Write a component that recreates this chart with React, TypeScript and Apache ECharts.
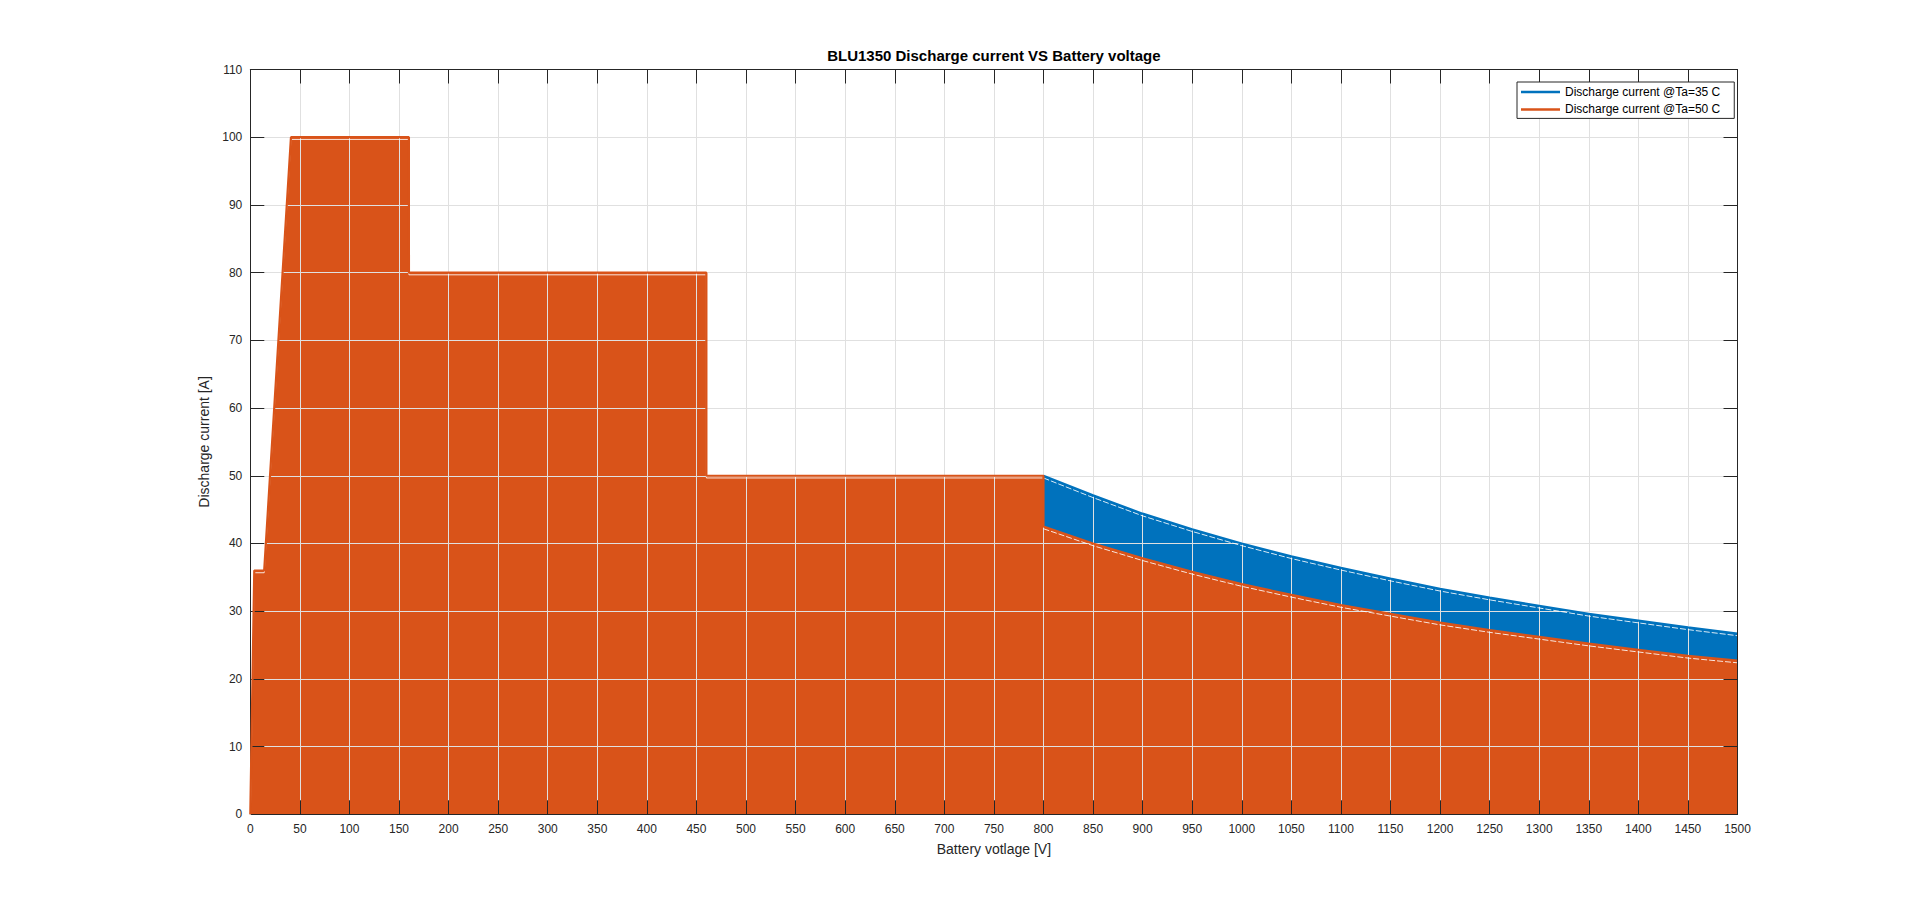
import React, { useEffect, useRef } from "react";
import * as echarts from "echarts";

// Low-voltage profile shared by both curves (V, A)
const lowVoltage = [0, 4, 14, 41, 160, 160, 460, 460, 800];
const lowCurrent = [0, 36, 36, 100, 100, 80, 80, 50, 50];

// Constant-power part (V, A)
const highVoltage = [850, 900, 950, 1000, 1050, 1100, 1150, 1200, 1250, 1300, 1350, 1400, 1450, 1500];
const current35 = [47.1, 44.4, 42.1, 40.0, 38.1, 36.4, 34.8, 33.3, 32.0, 30.8, 29.6, 28.6, 27.6, 26.7];
const orangeStartAt800 = 42.5;
const current50 = [40.0, 37.8, 35.8, 34.0, 32.4, 30.9, 29.6, 28.3, 27.2, 26.2, 25.2, 24.3, 23.4, 22.7];

const xTicks = { min: 0, max: 1500, interval: 50 };
const yTicks = { min: 0, max: 110, interval: 10 };

const seriesNames = ["Discharge current @Ta=35 C", "Discharge current @Ta=50 C"];
const titleText = "BLU1350 Discharge current VS Battery voltage";
const xName = "Battery votlage [V]";
const yName = "Discharge current [A]";

const BLUE = "#0072BD";
const ORANGE = "#D95319";
const INK = "#262626";
const GRIDC = "#e0e0e0";
const FONT = "Liberation Sans, Arial, Helvetica, sans-serif";

function buildData() {
  const low = lowVoltage.map((v, i) => [v, lowCurrent[i]]);
  const hi35 = [[800, lowCurrent[lowCurrent.length - 1]], ...highVoltage.map((v, i) => [v, current35[i]])];
  const hi50 = [[800, orangeStartAt800], ...highVoltage.map((v, i) => [v, current50[i]])];
  const d35 = [...low, ...hi35.slice(1)];
  const d50 = [...low, ...hi50];
  return { low, hi35, hi50, d35, d50 };
}

export default function App() {
  const ref = useRef<HTMLDivElement>(null);
  useEffect(() => {
    if (!ref.current) return;
    const chart = echarts.init(ref.current, null, { renderer: "svg" });
    const { low, hi35, hi50, d35, d50 } = buildData();
    const gridL = 250.3, gridRx = 1737.5, gridT = 69.5, gridBy = 814.3;
    const gridR = 1920 - gridRx, gridB = 916 - gridBy;
    const shift = 2.2; // inner rendering seam offset (px)
    const axisCommon = {
      axisLine: { show: true, onZero: false, lineStyle: { color: INK, width: 1 } },
      axisTick: { show: true, inside: true, length: 14, lineStyle: { color: INK, width: 1 } },
    };
    const hiddenAxis = {
      show: false,
      axisLine: { show: false },
      axisTick: { show: false },
      axisLabel: { show: false },
      splitLine: { show: false },
    };
    const fmt = (v: number) => String(v);
    const edge = (name: string, data: number[][], color: string, z: number) => ({
      name,
      type: "line",
      data,
      showSymbol: false,
      symbol: "none",
      color,
      lineStyle: { color, width: 2.2 },
      z,
      silent: true,
    });
    const seam = (name: string, data: number[][], dashed: boolean) => ({
      name,
      type: "line",
      xAxisIndex: 2,
      yAxisIndex: 2,
      data,
      showSymbol: false,
      symbol: "none",
      color: "#ffffff",
      lineStyle: { color: "#ffffff", width: 1, opacity: 0.85, type: dashed ? [6, 2] : "solid" },
      z: 4,
      silent: true,
    });
    chart.setOption({
      animation: false,
      backgroundColor: "#ffffff",
      textStyle: { fontFamily: FONT },
      title: {
        text: titleText,
        left: (gridL + gridRx) / 2,
        textAlign: "center",
        top: 48,
        padding: 0,
        textStyle: { fontFamily: FONT, fontSize: 15, fontWeight: "bold", color: "#000000" },
      },
      legend: {
        orient: "vertical",
        left: 1517,
        top: 82,
        padding: [3, 14, 2, 4],
        itemGap: 3.4,
        itemWidth: 39,
        itemHeight: 2.5,
        icon: "rect",
        borderColor: INK,
        borderWidth: 1,
        backgroundColor: "#ffffff",
        z: 10,
        textStyle: { fontFamily: FONT, fontSize: 12, color: "#000000", lineHeight: 14 },
        data: seriesNames,
      },
      grid: [
        { left: gridL, right: gridR, top: gridT, bottom: gridB, containLabel: false },
        { left: gridL, right: gridR, top: gridT + shift, bottom: gridB - shift, containLabel: false },
      ],
      xAxis: [
        {
          type: "value",
          gridIndex: 0,
          position: "bottom",
          ...xTicks,
          z: 3,
          ...axisCommon,
          axisLabel: { fontFamily: FONT, fontSize: 12, color: INK, margin: 9, formatter: fmt },
          splitLine: { show: true, lineStyle: { color: GRIDC, width: 1 } },
          name: xName,
          nameLocation: "middle",
          nameGap: 28,
          nameTextStyle: { fontFamily: FONT, fontSize: 14, color: INK },
        },
        {
          type: "value",
          gridIndex: 0,
          position: "top",
          ...xTicks,
          z: 6,
          ...axisCommon,
          axisLabel: { show: false },
          splitLine: { show: false },
        },
        { type: "value", gridIndex: 1, ...xTicks, ...hiddenAxis },
      ],
      yAxis: [
        {
          type: "value",
          gridIndex: 0,
          position: "left",
          ...yTicks,
          z: 3,
          ...axisCommon,
          axisLabel: { fontFamily: FONT, fontSize: 12, color: INK, margin: 8, formatter: fmt },
          splitLine: { show: true, lineStyle: { color: GRIDC, width: 1 } },
          name: yName,
          nameLocation: "middle",
          nameGap: 26,
          nameTextStyle: { fontFamily: FONT, fontSize: 14, color: INK },
        },
        {
          type: "value",
          gridIndex: 0,
          position: "right",
          ...yTicks,
          z: 6,
          ...axisCommon,
          axisLabel: { show: false },
          splitLine: { show: false },
        },
        { type: "value", gridIndex: 1, ...yTicks, ...hiddenAxis },
      ],
      series: [
        {
          name: seriesNames[0],
          type: "line",
          data: d35,
          showSymbol: false,
          symbol: "none",
          color: BLUE,
          lineStyle: { color: BLUE, width: 0 },
          areaStyle: { color: BLUE, opacity: 1 },
          z: 1,
        },
        {
          name: seriesNames[1],
          type: "line",
          data: d50,
          showSymbol: false,
          symbol: "none",
          color: ORANGE,
          lineStyle: { color: ORANGE, width: 0 },
          areaStyle: { color: ORANGE, opacity: 1 },
          z: 2,
        },
        seam("seam35", hi35, true),
        seam("seam50low", low, false),
        seam("seam50hi", hi50, true),
        edge("edge35", hi35, BLUE, 5),
        edge("edge50", d50, ORANGE, 5),
      ],
    });
    return () => chart.dispose();
  }, []);
  return (
    <div
      ref={ref}
      style={{ position: "fixed", left: 0, top: 0, width: 1920, height: 916, background: "#ffffff" }}
    />
  );
}
